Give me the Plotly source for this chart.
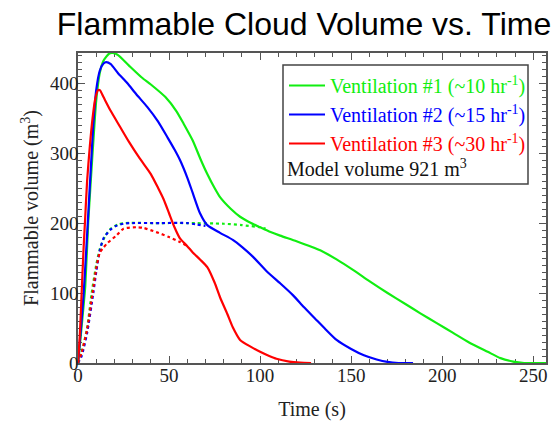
import plotly.graph_objects as go

# ---- data ----
t_v1 = [0, 1, 3, 4, 5.6, 7, 8.5, 10, 12, 14, 17, 19, 22, 28, 35, 40, 48, 54, 58, 63, 67, 71, 75, 78, 84, 89, 95, 100,
        105, 111, 120, 133, 142, 151, 160, 170, 180, 188, 197, 206, 215, 225, 232, 239, 245, 257]
v_v1 = [0, 25, 80, 110, 200, 260, 320, 375, 415, 432, 442, 443, 440, 425, 408, 398, 380, 360, 342, 318, 293, 270, 250, 237,
        220, 209, 200, 194, 188, 182, 174, 161, 148, 133, 117, 100, 84, 71, 57, 43, 29, 16, 7, 2, 0, 0]

t_v2 = [0, 1, 3, 4.5, 6, 7.5, 8.4, 10, 12, 14, 15.5, 18, 22, 27, 32, 38, 44, 49, 53, 56, 60, 63, 67, 71, 78, 85, 90, 96,
        104, 111, 118, 124, 130, 136, 142, 150, 157, 164, 170, 176, 184]
v_v2 = [0, 30, 95, 160, 230, 300, 340, 390, 418, 428, 430, 427, 414, 400, 384, 366, 345, 323, 305, 290, 265, 243, 214, 197,
        186, 176, 166, 152, 130, 114, 97, 80, 64, 48, 33, 20, 11, 5, 1.5, 0, 0]

t_v3 = [0, 1, 2, 3, 3.8, 5, 6.5, 8, 9.5, 11, 12, 14, 18, 23, 28, 34, 40, 44, 47, 50, 53, 56, 60, 63, 67, 71, 75, 78, 82, 85,
        89, 95, 100, 105, 109, 116, 122, 128]
v_v3 = [0, 40, 100, 160, 200, 260, 310, 350, 378, 390, 390, 380, 360, 338, 316, 292, 270, 250, 234, 214, 194, 178, 167, 158,
        148, 137, 115, 94, 70, 51, 33, 23, 16, 10, 6, 2, 0.5, 0]

# dotted curves
t_d1 = [0, 2, 5, 7.5, 10, 12, 15, 18, 22, 26, 40, 60, 80, 90, 100, 103]
v_d1 = [0, 15, 50, 100, 140, 163, 182, 192, 198, 200, 200, 200, 199, 197, 194, 192]

t_d2 = [0, 2, 5, 8.4, 10, 12, 14, 17.6, 21, 25, 30, 45, 60, 65, 70]
v_d2 = [0, 10, 43, 100, 130, 161, 178, 190, 196, 199, 200, 200, 200, 198, 196]

t_d3 = [0, 2, 5, 8, 10, 12, 14, 16, 21, 25, 32, 36, 43, 50, 56, 60]
v_d3 = [0, 15, 48, 100, 135, 158, 165, 171, 182, 192, 194, 193, 187, 180, 173, 167]

names = ["Ventilation #1 (~10 hr<sup>-1</sup>)",
         "Ventilation #2 (~15 hr<sup>-1</sup>)",
         "Ventilation #3 (~30 hr<sup>-1</sup>)"]
colors = ["#11ee11", "#0000ff", "#ff0000"]
note_text = "Model volume 921 m<sup>3</sup>"

x_ticks = [0, 50, 100, 150, 200, 250]
y_ticks = [0, 100, 200, 300, 400]

# ---- figure ----
W, H = 553, 421
L, R, T, B = 78, 7, 53, 58

fig = go.Figure()
solids = [(t_v1, v_v1), (t_v2, v_v2), (t_v3, v_v3)]
dots = [(t_d1, v_d1), (t_d2, v_d2), (t_d3, v_d3)]

for (tx, vy), c in zip(dots, colors):
    fig.add_trace(go.Scatter(x=tx, y=vy, mode="lines", showlegend=False,
                             line=dict(color=c, width=2.2, dash="dot", shape="spline", smoothing=0.6)))
for i, ((tx, vy), c, n) in enumerate(zip(solids, colors, names)):
    fig.add_trace(go.Scatter(x=tx, y=vy, mode="lines", legendgroup=f"g{i}",
                             name=f"<span style='color:{c}'>{n}</span>",
                             line=dict(color=c, width=2.2, shape="spline", smoothing=0.6)))

pw = W - L - R
ph = H - T - B

def px2x(px):
    return (px - L) / pw

def py2y(py):
    return (H - B - py) / ph

axis_common = dict(
    showline=True, linecolor="#555555", linewidth=1.5, mirror="ticks",
    ticks="inside", ticklen=7, tickwidth=1.3, tickcolor="#555555",
    showgrid=False, zeroline=False, layer="below traces", automargin=False,
    tickfont=dict(family="Liberation Serif", size=19, color="#222222"),
)

fig.update_xaxes(range=[0, 257], tickvals=x_ticks, ticklabelstandoff=-6,
                 minor=dict(dtick=10, ticks="inside", ticklen=4, tickcolor="#555555", tickwidth=1.2),
                 title=dict(text="Time (s)", font=dict(family="Liberation Serif", size=20, color="#222222"), standoff=18),
                 **axis_common)
fig.update_yaxes(range=[0, 443], tickvals=y_ticks, ticklabelstandoff=-6,
                 minor=dict(dtick=10, ticks="inside", ticklen=4, tickcolor="#555555", tickwidth=1.2),
                 title=dict(text="Flammable volume (m<sup>3</sup>)", font=dict(family="Liberation Serif", size=20, color="#222222"), standoff=6),
                 **axis_common)

fig.add_shape(type="rect", xref="paper", yref="paper",
              x0=px2x(283), x1=px2x(528), y0=py2y(184), y1=py2y(65),
              line=dict(color="#444444", width=1.5), fillcolor="rgba(0,0,0,0)")

fig.add_annotation(text=note_text, xref="paper", yref="paper",
                   x=px2x(285), y=py2y(168), xanchor="left", yanchor="middle",
                   showarrow=False, font=dict(family="Liberation Serif", size=20, color="#111111"))

fig.update_layout(
    width=W, height=H,
    margin=dict(l=L, r=R, t=T, b=B, autoexpand=False),
    paper_bgcolor="white", plot_bgcolor="white",
    title=dict(text="Flammable Cloud Volume vs. Time", x=304 / W, xanchor="center",
               y=1 - 24 / H, yanchor="middle", automargin=False,
               font=dict(family="Liberation Sans", size=32, color="black")),
    legend=dict(x=px2x(284), y=py2y(66), xanchor="left", yanchor="top",
                bgcolor="rgba(0,0,0,0)", borderwidth=0, tracegroupgap=0,
                font=dict(family="Liberation Serif", size=20), itemwidth=36),
    showlegend=True,
)

fig.write_html("out.html", config={"displayModeBar": False},
               post_script="document.body.style.margin='0px';")
